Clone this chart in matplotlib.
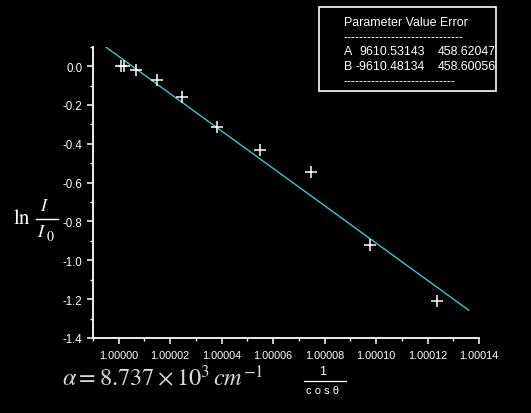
import matplotlib
matplotlib.use("Agg")
import matplotlib.pyplot as plt
from matplotlib.ticker import FormatStrFormatter, MultipleLocator
from matplotlib.patches import Rectangle
from matplotlib.lines import Line2D

plt.rcParams['font.family'] = ['Liberation Sans', 'DejaVu Sans']
plt.rcParams['axes.unicode_minus'] = False
plt.rcParams['mathtext.fontset'] = 'stix'

# data
x_vals = [1.0000007, 1.0000019, 1.0000068, 1.0000149, 1.0000246,
          1.0000382, 1.0000548, 1.0000747, 1.0000977, 1.0001236]
y_vals = [0.0, 0.0, -0.022, -0.070, -0.159, -0.313, -0.433, -0.544, -0.922, -1.207]
fit_A = 9610.53143
fit_B = -9610.48134
fit_A_err = 458.62047
fit_B_err = 458.60056
fit_x = [0.999995, 1.000136]
x_ticks = [1.00000, 1.00002, 1.00004, 1.00006, 1.00008, 1.00010, 1.00012, 1.00014]
y_ticks = [0.0, -0.2, -0.4, -0.6, -0.8, -1.0, -1.2, -1.4]

W, H = 531, 414
fig = plt.figure(figsize=(W / 100, H / 100), dpi=100, facecolor='black')
ax = fig.add_axes([93 / W, 1 - 339 / H, (479 - 93) / W, (339 - 47.7) / H])
ax.set_facecolor('black')

fit_y = [fit_A + fit_B * xv for xv in fit_x]
ax.plot(fit_x, fit_y, color='#3cc4cc', lw=1.0)
ax.plot(x_vals, y_vals, linestyle='none', marker='+', ms=9, mew=1.1, color='white')

ax.set_xlim(0.99999, 1.00014)
ax.set_ylim(-1.4, 0.1)
ax.set_xticks(x_ticks)
ax.set_yticks(y_ticks)
ax.xaxis.set_major_formatter(FormatStrFormatter('%.5f'))
ax.yaxis.set_major_formatter(FormatStrFormatter('%.1f'))
ax.xaxis.set_minor_locator(MultipleLocator(0.00001))
ax.yaxis.set_minor_locator(MultipleLocator(0.1))

for s in ['top', 'right']:
    ax.spines[s].set_visible(False)
for s in ['left', 'bottom']:
    ax.spines[s].set_color('white')
    ax.spines[s].set_linewidth(1.3)

ax.tick_params(which='major', direction='out', length=4.5, width=1.1, colors='white',
               labelsize=7.8, pad=3)
ax.tick_params(which='minor', direction='out', length=2.5, width=1.0, colors='white')
ax.tick_params(axis='x', which='major', pad=4)
for lab in ax.get_yticklabels():
    lab.set_fontsize(8.3)

# y label: ln I / I0
fig.text(13 / W, 1 - 219 / H, r'$\mathrm{ln}$', color='white', fontsize=15,
         ha='left', va='center')
fig.add_artist(Line2D([36 / W, 58 / W], [1 - 219.5 / H, 1 - 219.5 / H],
                      color='white', lw=1.0, transform=fig.transFigure))
fig.text(44.5 / W, 1 - 207 / H, r'$I$', color='white', fontsize=13,
         ha='center', va='center')
fig.text(41.5 / W, 1 - 233 / H, r'$I$', color='white', fontsize=13,
         ha='center', va='center')
fig.text(50 / W, 1 - 237 / H, r'$\mathrm{0}$', color='white', fontsize=10,
         ha='center', va='center')

# x label  1 / cos theta
fig.text(323 / W, 1 - 372 / H, '1', color='white', fontsize=9, ha='center', va='center')
fig.add_artist(Line2D([304 / W, 346 / W], [1 - 381.5 / H, 1 - 381.5 / H],
                      color='white', lw=0.9, transform=fig.transFigure))
fig.text(323 / W, 1 - 391 / H, 'c o s θ', color='white', fontsize=8,
         ha='center', va='center')

# alpha formula
fig.text(62 / W, 1 - 386 / H, r'$\alpha = 8.737\times10^{3}\,cm^{-1}$',
         color='#d8d8d8', fontsize=17.5, ha='left', va='baseline')

# parameter table
fig.add_artist(Rectangle((319 / W, 1 - 91.7 / H), (495.7 - 319) / W, (91.7 - 8.3) / H,
                         transform=fig.transFigure, fill=False, edgecolor='white', lw=1.2))
tkw = dict(color='white', fontsize=8.9, va='center', ha='left')
fig.text(344 / W, 1 - 22.7 / H, 'Parameter Value Error', **tkw)
fig.text(344 / W, 1 - 38.5 / H, '-' * 30, **tkw)
fig.text(344 / W, 1 - 52.3 / H, 'A', **tkw)
fig.text(359 / W, 1 - 52.3 / H, f'{fit_A:.5f}', **tkw)
fig.text(437.7 / W, 1 - 52.3 / H, f'{fit_A_err:.5f}', **tkw)
fig.text(344 / W, 1 - 66.7 / H, 'B', **tkw)
fig.text(355 / W, 1 - 66.7 / H, f'{fit_B:.5f}', **tkw)
fig.text(437.7 / W, 1 - 66.7 / H, f'{fit_B_err:.5f}', **tkw)
fig.text(344 / W, 1 - 81.7 / H, '-' * 28, **tkw)

fig.savefig('out.png', dpi=100, facecolor='black')
